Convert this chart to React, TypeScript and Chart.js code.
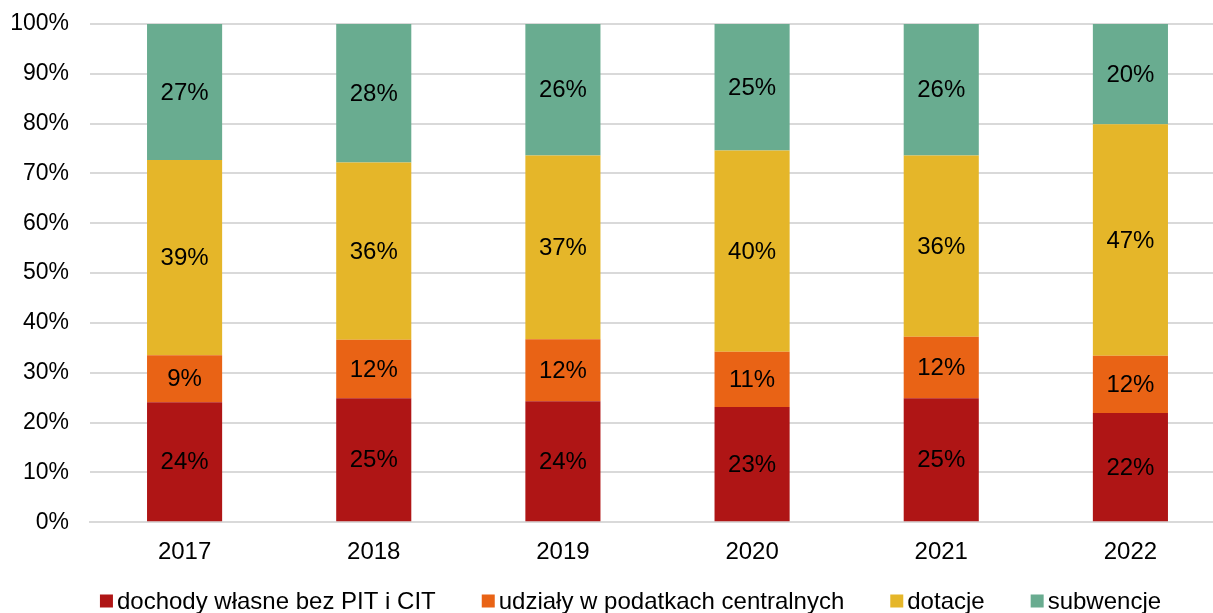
import React, { useEffect, useRef } from "react";
import { Chart, registerables } from "chart.js";

Chart.register(...registerables);

const categories = ["2017", "2018", "2019", "2020", "2021", "2022"];
const seriesNames = [
  "dochody własne bez PIT i CIT",
  "udziały w podatkach centralnych",
  "dotacje",
  "subwencje",
];
const ownIncome = [24.1, 24.9, 24.3, 23.1, 24.9, 21.9];
const taxShares = [9.4, 11.7, 12.4, 11.1, 12.3, 11.5];
const grants = [39.2, 35.6, 36.9, 40.4, 36.4, 46.5];
const subsidies = [27.3, 27.8, 26.4, 25.4, 26.4, 20.1];
const yTicks = [0, 10, 20, 30, 40, 50, 60, 70, 80, 90, 100];

const colors = ["#AF1515", "#E96315", "#E5B629", "#69AC90"];
const FONT = "'Liberation Sans', Arial, sans-serif";

const labelPlugin = {
  id: "barLabels",
  afterDatasetsDraw(chart: any) {
    const ctx = chart.ctx;
    ctx.save();
    ctx.font = `24px ${FONT}`;
    ctx.fillStyle = "#000";
    ctx.textAlign = "center";
    ctx.textBaseline = "middle";
    chart.data.datasets.forEach((ds: any, i: number) => {
      const meta = chart.getDatasetMeta(i);
      meta.data.forEach((bar: any, j: number) => {
        const v = ds.data[j];
        const y = (bar.y + bar.base) / 2;
        ctx.fillText(Math.round(v) + "%", bar.x, y + 1);
      });
    });
    ctx.restore();
  },
};

const legendPlugin = {
  id: "customLegend",
  afterDraw(chart: any) {
    const ctx = chart.ctx;
    ctx.save();
    ctx.font = `24px ${FONT}`;
    ctx.textBaseline = "middle";
    ctx.textAlign = "left";
    const box = 13;
    const boxGap = 4;
    const itemGap = 46;
    const widths = seriesNames.map((n) => box + boxGap + ctx.measureText(n).width);
    const total = widths.reduce((a, b) => a + b, 0) + itemGap * (seriesNames.length - 1);
    let x = chart.width / 2 + 18 - total / 2;
    const y = 601;
    seriesNames.forEach((n, i) => {
      ctx.fillStyle = colors[i];
      ctx.fillRect(x, y - box / 2, box, box);
      ctx.fillStyle = "#000";
      ctx.fillText(n, x + box + boxGap, y + 1);
      x += widths[i] + itemGap;
    });
    ctx.restore();
  },
};

export default function App() {
  const ref = useRef<HTMLCanvasElement>(null);
  useEffect(() => {
    document.body.style.margin = "0";
    document.body.style.overflow = "hidden";
    document.documentElement.style.overflow = "hidden";
    const data = [ownIncome, taxShares, grants, subsidies];
    const chart = new Chart(ref.current!, {
      type: "bar",
      data: {
        labels: categories,
        datasets: seriesNames.map((name, i) => ({
          label: name,
          data: data[i],
          backgroundColor: colors[i],
          borderWidth: 0,
          categoryPercentage: 1,
          barPercentage: 0.397,
        })),
      },
      options: {
        animation: false,
        responsive: false,
        maintainAspectRatio: false,
        layout: { padding: { top: 24, left: 0, right: 0, bottom: 38 } },
        plugins: {
          tooltip: { enabled: false },
          legend: { display: false },
        },
        scales: {
          x: {
            stacked: true,
            grid: { display: false },
            border: { display: true, color: "#D9D9D9", width: 2 },
            ticks: { font: { family: FONT, size: 24 }, color: "#000", padding: 8 },
          },
          y: {
            stacked: true,
            min: 0,
            max: 100,
            afterBuildTicks: (axis: any) => {
              axis.ticks = yTicks.map((v) => ({ value: v }));
            },
            afterFit: (axis: any) => {
              axis.width = 90;
              axis.paddingTop = 0;
              axis.paddingBottom = 0;
            },
            grid: { color: "#D9D9D9", lineWidth: 2, drawTicks: false },
            border: { display: false },
            ticks: {
              font: { family: FONT, size: 23 },
              color: "#000",
              padding: 21,
              callback: (v: any) => v + "%",
            },
          },
        },
      },
      plugins: [labelPlugin, legendPlugin],
    });
    return () => chart.destroy();
  }, []);
  return (
    <div style={{ width: 1225, height: 613, overflow: "hidden" }}>
      <canvas ref={ref} width={1225} height={613} />
    </div>
  );
}
